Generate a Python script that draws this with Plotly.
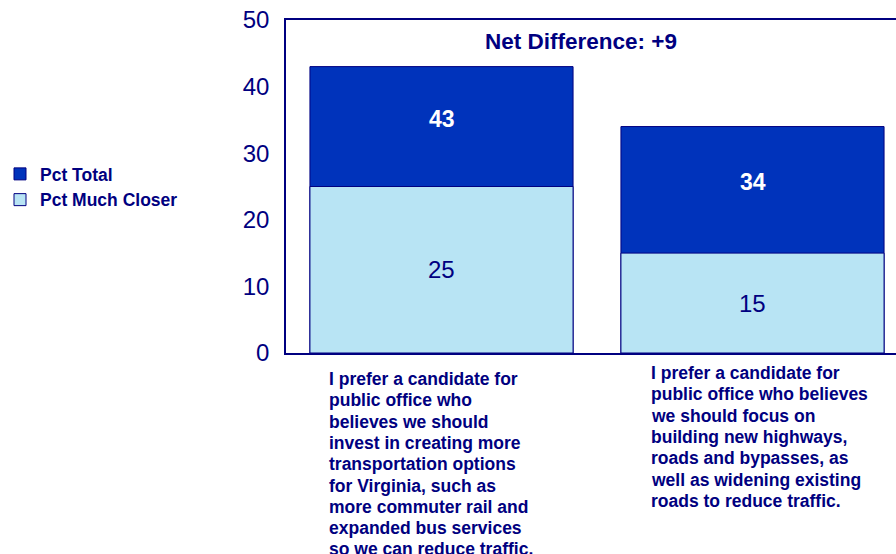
import plotly.graph_objects as go

# Survey results: share preferring each candidate position
categories = ["Transit options", "Highways and roads"]
category_lines = [
    ["I prefer a candidate for", "public office who", "believes we should",
     "invest in creating more", "transportation options", "for Virginia, such as",
     "more commuter rail and", "expanded bus services", "so we can reduce traffic."],
    ["I prefer a candidate for", "public office who believes", "we should focus on",
     "building new highways,", "roads and bypasses, as", "well as widening existing",
     "roads to reduce traffic."],
]
pct_total = [43, 34]
pct_much_closer = [25, 15]
y_ticks = [0, 10, 20, 30, 40, 50]

NAVY = "#000080"
DARK = "#0033BB"
LIGHT = "#B8E4F4"
FONT = "Liberation Sans, Arial, sans-serif"

W, H = 896, 554
M_L, M_R, M_T, M_B = 286, 0, 20, 201
plot_h = H - M_T - M_B


def paper_y(ypx):
    """Convert a pixel row (from the top of the page) to paper y."""
    return (M_T + plot_h - ypx) / plot_h


xs = list(range(len(categories)))

fig = go.Figure()
fig.add_trace(go.Bar(
    x=xs, y=pct_total, name="Pct Total", width=0.846,
    marker=dict(color=DARK, line=dict(color=NAVY, width=1)),
    hoverinfo="skip",
))
fig.add_trace(go.Bar(
    x=xs, y=pct_much_closer, name="Pct Much Closer", width=0.846,
    marker=dict(color=LIGHT, line=dict(color=NAVY, width=1)),
    hoverinfo="skip",
))

annotations = []
# value labels
for x, tot, close in zip(xs, pct_total, pct_much_closer):
    annotations.append(dict(
        x=x, y=(tot + close) / 2, xref="x", yref="y", text=f"<b>{tot}</b>",
        showarrow=False, yshift=8, font=dict(family=FONT, size=23, color="white"),
    ))
    annotations.append(dict(
        x=x, y=close / 2, xref="x", yref="y", text=str(close),
        showarrow=False, font=dict(family=FONT, size=24, color=NAVY),
    ))

# net difference header
net = pct_total[0] - pct_total[1]
annotations.append(dict(
    x=0.4486, y=paper_y(41), xref="x", yref="paper", yanchor="middle",
    text=f"<b>Net Difference: +{net}</b>", showarrow=False,
    font=dict(family=FONT, size=22.5, color=NAVY),
))

# category descriptions, one annotation per line
line_gap = 21.3
starts = [379, 373]
x_offsets = [-0.368, -0.332]
for x, lines, y0, dx in zip(xs, category_lines, starts, x_offsets):
    for i, line in enumerate(lines):
        annotations.append(dict(
            x=x + dx, y=paper_y(y0 + i * line_gap), xref="x", yref="paper",
            text=f"<b>{line}</b>", showarrow=False, xanchor="left", yanchor="middle",
            font=dict(family=FONT, size=17.5, color=NAVY),
        ))

fig.update_layout(
    width=W, height=H,
    margin=dict(l=M_L, r=M_R, t=M_T, b=M_B, pad=0),
    barmode="overlay",
    plot_bgcolor="white", paper_bgcolor="white",
    font=dict(family=FONT, color=NAVY),
    showlegend=True,
    legend=dict(
        x=0, xref="container", y=(H - 187) / H, yref="container",
        xanchor="left", yanchor="middle",
        font=dict(family=FONT, size=17.5, color=NAVY, weight="bold"),
        bgcolor="rgba(0,0,0,0)", itemclick=False, itemdoubleclick=False,
        tracegroupgap=0,
    ),
    annotations=annotations,
    xaxis=dict(
        range=[-0.5, 1.4614], showticklabels=False, showgrid=False, zeroline=False,
        showline=True, linecolor=NAVY, linewidth=1.5, mirror=True, ticks="",
        fixedrange=True,
    ),
    yaxis=dict(
        range=[0, 50], tickvals=y_ticks, showgrid=False, zeroline=False,
        showline=True, linecolor=NAVY, linewidth=1.5,
        ticks="outside", ticklen=10, tickcolor="rgba(0,0,0,0)",
        tickfont=dict(family=FONT, size=24, color=NAVY), fixedrange=True,
    ),
)

fig.write_html("out.html", config=dict(displayModeBar=False))
